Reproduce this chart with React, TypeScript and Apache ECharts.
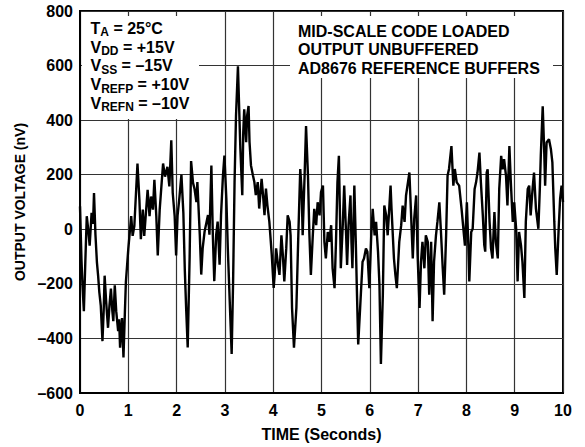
import React, { useEffect, useRef } from 'react';
import * as echarts from 'echarts';

const FONT = '"Liberation Sans", Arial, Helvetica, sans-serif';

// Axis ranges
const xMin = 0;
const xMax = 10;
const xStep = 1;
const yMin = -600;
const yMax = 800;
const yStep = 200;

const xAxisTitle = 'TIME (Seconds)';
const yAxisTitle = 'OUTPUT VOLTAGE (nV)';

// Noise trace (time in seconds, output in nV)
const timeS = [
  0.0, 0.03, 0.05, 0.08, 0.11, 0.14, 0.17, 0.2, 0.24, 0.27, 0.29, 0.32, 0.35, 0.375, 0.4, 0.43, 0.465, 0.49, 0.51, 0.54,
  0.56, 0.58, 0.61, 0.64, 0.67, 0.69, 0.72, 0.75, 0.79, 0.81, 0.83, 0.87, 0.9, 0.93, 0.95, 0.98, 1.0, 1.06, 1.09, 1.125,
  1.19, 1.23, 1.26, 1.3, 1.33, 1.4, 1.44, 1.47, 1.51, 1.54, 1.58, 1.61, 1.65, 1.72, 1.76, 1.81, 1.85, 1.89, 1.92, 1.96,
  1.99, 2.02, 2.06, 2.1, 2.14, 2.17, 2.2, 2.23, 2.27, 2.3, 2.34, 2.37, 2.41, 2.43, 2.48, 2.51, 2.54, 2.58, 2.65, 2.68,
  2.72, 2.75, 2.78, 2.82, 2.85, 2.89, 2.92, 2.96, 2.99, 3.03, 3.06, 3.09, 3.14, 3.17, 3.2, 3.23, 3.27, 3.29, 3.32, 3.36,
  3.38, 3.4, 3.44, 3.46, 3.49, 3.51, 3.54, 3.58, 3.61, 3.64, 3.68, 3.71, 3.76, 3.79, 3.82, 3.85, 3.88, 3.92, 3.97, 4.01,
  4.03, 4.06, 4.1, 4.13, 4.17, 4.2, 4.23, 4.27, 4.3, 4.34, 4.36, 4.39, 4.43, 4.48, 4.52, 4.56, 4.59, 4.61, 4.65, 4.68,
  4.72, 4.75, 4.78, 4.82, 4.85, 4.89, 4.92, 4.96, 4.99, 5.03, 5.06, 5.09, 5.13, 5.16, 5.2, 5.23, 5.27, 5.3, 5.33, 5.36,
  5.38, 5.4, 5.44, 5.47, 5.51, 5.53, 5.56, 5.6, 5.62, 5.64, 5.68, 5.71, 5.73, 5.76, 5.8, 5.85, 5.88, 5.92, 5.95, 5.99,
  6.03, 6.06, 6.1, 6.13, 6.17, 6.2, 6.23, 6.27, 6.3, 6.34, 6.37, 6.41, 6.43, 6.45, 6.5, 6.53, 6.56, 6.61, 6.65, 6.68,
  6.72, 6.75, 6.78, 6.82, 6.85, 6.89, 6.92, 6.96, 6.99, 7.03, 7.06, 7.09, 7.13, 7.16, 7.2, 7.23, 7.27, 7.3, 7.33, 7.37,
  7.4, 7.44, 7.47, 7.51, 7.54, 7.58, 7.61, 7.64, 7.69, 7.73, 7.76, 7.8, 7.85, 7.9, 7.95, 7.97, 8.01, 8.04, 8.06, 8.1,
  8.13, 8.17, 8.2, 8.23, 8.27, 8.3, 8.34, 8.37, 8.39, 8.42, 8.44, 8.48, 8.51, 8.54, 8.58, 8.61, 8.65, 8.68, 8.72, 8.75,
  8.78, 8.82, 8.85, 8.89, 8.92, 8.96, 8.99, 9.03, 9.06, 9.09, 9.13, 9.16, 9.2, 9.23, 9.27, 9.3, 9.33, 9.37, 9.4, 9.44,
  9.49, 9.52, 9.54, 9.58, 9.61, 9.63, 9.66, 9.71, 9.75, 9.78, 9.82, 9.84, 9.87, 9.91, 9.94, 9.97, 10.0,
];
const outputNv = [
  84, -110, -200, -300, -120, 48, 0, -60, 60, 20, 133, -20, -120, -170, -230, -280, -410, -300, -170, -260,
  -313, -361, -280, -217, -300, -337, -205, -300, -373, -330, -434, -325, -470, -300, -193, -120, -72, 48, -24, 12,
  241, 108, -36, 72, -24, 145, 48, 120, 72, 181, 48, -96, 72, 241, 193, 229, 157, 326, 133, 48,
  -96, 50, 120, 200, 60, -150, -300, -433, -100, 250, 170, 149, 100, 173, -20, -166, -69, -8, 52, -20,
  234, -20, -190, -20, 28, -130, 52, 198, 270, 113, -69, -215, -457, -190, 173, 416, 597, 476, 295, 125,
  355, 440, 319, 416, 452, 319, 234, 198, 173, 125, 173, 76, 185, 125, 52, 149, 88, 28, -93, -215,
  -167, -70, -131, -167, -22, -95, -191, -70, 51, 27, -22, -288, -434, -288, -22, 221, 136, -22, 196, 378,
  196, -22, -167, -22, 75, 15, 99, 51, 136, 160, -46, -107, -10, -46, 15, -143, -216, -46, 172, 269,
  75, -143, 15, 160, -22, -131, 15, 124, -46, -143, 160, -46, -204, -422, -288, -119, -107, -70, -82, -216,
  -22, 75, -22, 27, -82, -204, -494, -240, 87, 51, -22, 99, 160, 75, -107, -167, -216, -46, 15, 87,
  27, 124, 160, 208, 75, -107, 39, 124, -95, -288, -119, -46, -143, -22, -46, -240, -46, -337, -119, -22,
  27, 99, 2, -143, -240, -22, 196, 221, 305, 160, 221, 172, 160, 75, -22, -60, 99, -58, -191, -10,
  2, 148, 172, 208, 281, 172, 51, -58, -82, 208, 220, 27, -70, -107, 63, -46, -107, 148, 269, 220,
  257, 196, 87, 305, 172, 27, 99, 2, -191, -10, -58, -119, -252, 27, 148, 160, 51, 148, 208, 75,
  2, 148, 269, 451, 293, 160, 318, 330, 293, 245, 27, -70, -167, 2, 111, 160, 100,
];

// Annotation texts
const conditionLines = [
  ['T', 'A', ' = 25°C'],
  ['V', 'DD', ' = +15V'],
  ['V', 'SS', ' = –15V'],
  ['V', 'REFP', ' = +10V'],
  ['V', 'REFN', ' = –10V'],
];
const noteLines = ['MID-SCALE CODE LOADED', 'OUTPUT UNBUFFERED', 'AD8676 REFERENCE BUFFERS'];

export default function App() {
  const ref = useRef<HTMLDivElement>(null);
  useEffect(() => {
    const chart = echarts.init(ref.current!, null, { renderer: 'svg' });
    const labelStyle = { color: '#000', fontFamily: FONT, fontWeight: 'bold' as const, fontSize: 16 };
    const condText = conditionLines.map(([a, b, c]) => `{m|${a}}{s|${b}}{m|${c}}`).join('\n');
    chart.setOption({
      animation: false,
      backgroundColor: '#fff',
      grid: { left: 80, right: 22, top: 11, bottom: 51, show: true, borderColor: '#000', borderWidth: 2 },
      xAxis: {
        type: 'value',
        min: xMin,
        max: xMax,
        interval: xStep,
        axisLine: { show: true, onZero: false, lineStyle: { color: '#000', width: 2 } },
        axisTick: { show: false },
        splitLine: { show: true, lineStyle: { color: '#333', width: 1.2 } },
        axisLabel: { ...labelStyle, margin: 9 },
        name: xAxisTitle,
        nameLocation: 'middle',
        nameGap: 33,
        nameTextStyle: labelStyle,
      },
      yAxis: {
        type: 'value',
        min: yMin,
        max: yMax,
        interval: yStep,
        axisLine: { show: true, onZero: false, lineStyle: { color: '#000', width: 2 } },
        axisTick: { show: false },
        splitLine: { show: true, lineStyle: { color: '#333', width: 1.2 } },
        axisLabel: {
          ...labelStyle,
          margin: 7,
          formatter: (v: number) => (v < 0 ? '–' + Math.abs(v) : String(v)),
        },
        name: yAxisTitle,
        nameLocation: 'middle',
        nameGap: 52,
        nameTextStyle: { ...labelStyle, fontSize: 14 },
      },
      series: [
        {
          type: 'line',
          data: timeS.map((t, i) => [t, outputNv[i]]),
          symbol: 'none',
          showSymbol: false,
          lineStyle: { color: '#000', width: 2.4 },
          z: 3,
        },
      ],
      graphic: [
        { type: 'rect', z: 5, shape: { x: 82, y: 16, width: 117, height: 103 }, style: { fill: '#fff' } },
        { type: 'rect', z: 5, shape: { x: 290, y: 16, width: 263, height: 62 }, style: { fill: '#fff' } },
        {
          type: 'text',
          z: 6,
          x: 90.5,
          y: 19,
          style: {
            text: condText,
            fill: '#000',
            align: 'left',
            verticalAlign: 'top',
            rich: {
              m: { fontFamily: FONT, fontWeight: 'bold', fontSize: 16, lineHeight: 18.75, fill: '#000' },
              s: { fontFamily: FONT, fontWeight: 'bold', fontSize: 12, lineHeight: 18.75, padding: [8, 0, 0, 0], fill: '#000' },
            },
          },
        },
        {
          type: 'text',
          z: 6,
          x: 298,
          y: 22.5,
          style: {
            text: noteLines.join('\n'),
            fill: '#000',
            align: 'left',
            verticalAlign: 'top',
            font: `bold 16px ${FONT}`,
            lineHeight: 18.3,
          },
        },
      ],
    });
    return () => chart.dispose();
  }, []);
  return <div ref={ref} style={{ position: 'fixed', left: 0, top: 0, width: 585, height: 447 }} />;
}
